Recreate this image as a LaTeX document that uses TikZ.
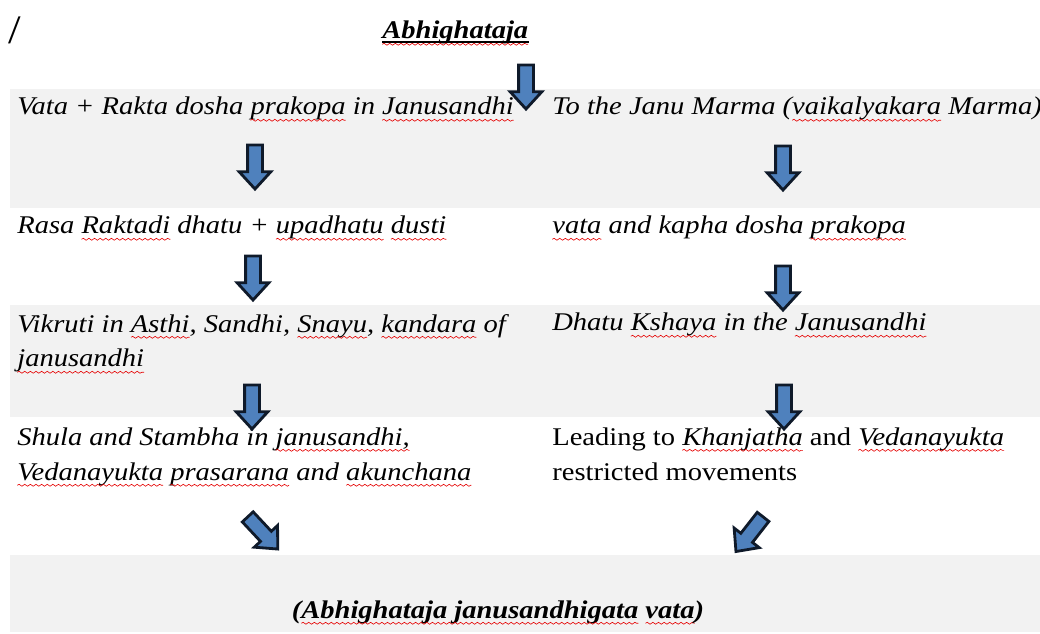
\documentclass[tikz,border=0pt]{standalone}
\usepackage{fontspec}
\setmainfont{Liberation Serif}[FakeStretch=1.12]
\usepackage{xcolor}
\usetikzlibrary{positioning,shapes.arrows,decorations.pathmorphing}
\definecolor{bandgray}{HTML}{F2F2F2}
\definecolor{arrowfill}{HTML}{4F81BD}
\definecolor{arrowline}{HTML}{0F1A2A}
\newlength\sqlen
% red spell-check squiggle under a word
\newcommand\sq[1]{\settowidth\sqlen{#1}#1\tikz[overlay]\draw[red!90!black, line width=0.35pt,
    decorate, decoration={snake, amplitude=0.55pt, segment length=3.2pt}]
    (-\sqlen,-3pt) -- (0pt,-3pt);}

\begin{document}
\begin{tikzpicture}[x=0.02cm, y=-0.02cm,
    txt/.style={anchor=base west, inner sep=0pt, align=left,
                font=\fontsize{14.5}{19.9}\selectfont\itshape},
    hdr/.style={txt, font=\fontsize{14.5}{19.9}\selectfont\bfseries\itshape},
    blk/.style={single arrow, draw=arrowline, fill=arrowfill, line width=1.6pt,
                inner xsep=0pt, inner ysep=0.12cm, minimum height=0.88cm,
                single arrow head extend=0.17cm, single arrow tip angle=85}]
  \useasboundingbox (0,0) rectangle (1040,634);
  % shaded rows
  \fill[bandgray] (10,89) rectangle (1040,208);
  \fill[bandgray] (10,305) rectangle (1040,417);
  \fill[bandgray] (10,555) rectangle (1040,632);

  \node[txt, font=\fontsize{23}{23}\selectfont] (slash) at (8,44) {/};
  \node[hdr] (title) at (382,39) {\sq{Abhighataja}};
  \draw[line width=0.9pt] ([yshift=-1.6pt]title.base west) -- ([yshift=-1.6pt]title.base east);

  % two-line nodes are placed by the baseline of their last line
  \node[txt] (vata) at (17,115) {Vata + Rakta dosha \sq{prakopa} in \sq{Janusandhi}};
  \node[txt] (marma) at (552,115) {To the Janu Marma (\sq{vaikalyakara} Marma)};
  \node[txt] (rasa) at (17,234) {Rasa \sq{Raktadi} dhatu + \sq{upadhatu} \sq{dusti}};
  \node[txt] (kapha) at (552,234) {\sq{vata} and kapha dosha \sq{prakopa}};
  \node[txt] (vikruti) at (17,367) {Vikruti in \sq{Asthi}, Sandhi, \sq{Snayu}, \sq{kandara} of\\\sq{janusandhi}};
  \node[txt] (kshaya) at (552,331) {Dhatu \sq{Kshaya} in the \sq{Janusandhi}};
  \node[txt] (shula) at (17,480) {Shula and Stambha in \sq{janusandhi,}\\\sq{Vedanayukta} \sq{prasarana} and \sq{akunchana}};
  \node[txt, font=\fontsize{14.5}{19.9}\selectfont\upshape] (khanja) at (552,480)
       {Leading to \textit{\sq{Khanjatha}} and \textit{\sq{Vedanayukta}}\\restricted movements};
  \node[hdr, anchor=base] (result) at (498,618) {(\sq{Abhighataja janusandhigata} \sq{vata})};

  % block arrows
  \node[blk, rotate=-90] (a0) at (526,83) {};
  \node[blk, rotate=-90] (a1) at (255,163) {};
  \node[blk, rotate=-90] (b1) at (783,164) {};
  \node[blk, rotate=-90] (a2) at (253,274) {};
  \node[blk, rotate=-90] (b2) at (783,284) {};
  \node[blk, rotate=-90] (a3) at (252,403) {};
  \node[blk, rotate=-90] (b3) at (784,403) {};
  \node[blk, rotate=-47] (a4) at (260,530) {};
  \node[blk, rotate=-128] (b4) at (752,531) {};
\end{tikzpicture}
\end{document}
